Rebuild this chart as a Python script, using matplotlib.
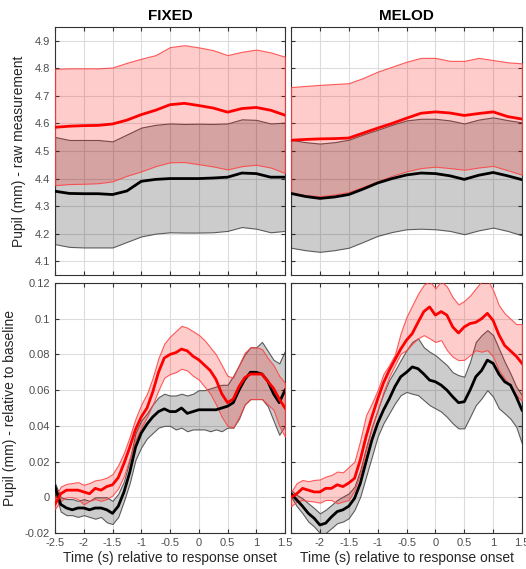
import numpy as np
import matplotlib
matplotlib.use("Agg")
import matplotlib.pyplot as plt
from matplotlib.ticker import FormatStrFormatter

plt.rcParams['font.family'] = ['Liberation Sans', 'DejaVu Sans']

# time axes (s relative to response onset)
t_top = np.linspace(-2.5, 1.5, 17)
t_bot = np.linspace(-2.5, 1.5, 41)

# ---- raw pupil, FIXED ----
fixed_raw_red = [4.586, 4.590, 4.592, 4.593, 4.598, 4.612, 4.632, 4.648, 4.668, 4.673,
                 4.665, 4.656, 4.641, 4.654, 4.658, 4.648, 4.630]
fixed_raw_red_hi = [4.798, 4.800, 4.800, 4.800, 4.803, 4.820, 4.835, 4.848, 4.877, 4.884,
                    4.876, 4.866, 4.848, 4.860, 4.868, 4.858, 4.842]
fixed_raw_red_lo = [4.376, 4.380, 4.381, 4.383, 4.390, 4.410, 4.426, 4.445, 4.459, 4.460,
                    4.452, 4.444, 4.433, 4.445, 4.450, 4.440, 4.420]
fixed_raw_blk = [4.354, 4.346, 4.345, 4.345, 4.342, 4.355, 4.390, 4.397, 4.400, 4.400,
                 4.400, 4.402, 4.405, 4.420, 4.418, 4.405, 4.405]
fixed_raw_blk_hi = [4.551, 4.540, 4.540, 4.540, 4.535, 4.560, 4.585, 4.595, 4.600, 4.598,
                    4.599, 4.598, 4.600, 4.615, 4.613, 4.600, 4.603]
fixed_raw_blk_lo = [4.162, 4.152, 4.150, 4.150, 4.150, 4.170, 4.190, 4.200, 4.205, 4.204,
                    4.204, 4.205, 4.210, 4.224, 4.218, 4.205, 4.210]

# ---- raw pupil, MELOD ----
melod_raw_red = [4.539, 4.542, 4.544, 4.545, 4.547, 4.565, 4.583, 4.600, 4.619, 4.637,
                 4.642, 4.638, 4.629, 4.636, 4.642, 4.625, 4.616]
melod_raw_red_hi = [4.732, 4.736, 4.740, 4.743, 4.746, 4.765, 4.788, 4.806, 4.824, 4.838,
                    4.838, 4.827, 4.827, 4.838, 4.830, 4.822, 4.818]
melod_raw_red_lo = [4.348, 4.340, 4.336, 4.342, 4.351, 4.370, 4.390, 4.410, 4.426, 4.438,
                    4.443, 4.438, 4.432, 4.440, 4.446, 4.430, 4.414]
melod_raw_blk = [4.346, 4.335, 4.328, 4.333, 4.342, 4.362, 4.384, 4.400, 4.413, 4.420,
                 4.418, 4.410, 4.397, 4.412, 4.422, 4.410, 4.396]
melod_raw_blk_hi = [4.541, 4.532, 4.527, 4.532, 4.541, 4.560, 4.577, 4.595, 4.611, 4.617,
                    4.617, 4.611, 4.600, 4.614, 4.622, 4.612, 4.604]
melod_raw_blk_lo = [4.149, 4.140, 4.134, 4.140, 4.149, 4.170, 4.192, 4.206, 4.216, 4.218,
                    4.216, 4.210, 4.198, 4.212, 4.222, 4.210, 4.194]

# ---- baseline-corrected, FIXED ----
fixed_rel_red = [-0.004, 0.002, 0.004, 0.004, 0.004, 0.003, 0.002, 0.005, 0.004, 0.006,
                 0.007, 0.011, 0.019, 0.028, 0.038, 0.045, 0.050, 0.059, 0.070, 0.078,
                 0.080, 0.081, 0.083, 0.082, 0.079, 0.077, 0.074, 0.071, 0.066, 0.058,
                 0.053, 0.055, 0.062, 0.067, 0.069, 0.069, 0.069, 0.065, 0.061, 0.055, 0.050]
fixed_rel_red_hi = [0.000, 0.006, 0.0075, 0.008, 0.0085, 0.007, 0.008, 0.0095, 0.010, 0.011,
                    0.013, 0.018, 0.025, 0.034, 0.044, 0.052, 0.058, 0.067, 0.078, 0.086,
                    0.090, 0.093, 0.096, 0.095, 0.093, 0.091, 0.088, 0.084, 0.080, 0.074,
                    0.068, 0.067, 0.074, 0.081, 0.084, 0.084, 0.083, 0.078, 0.074, 0.068, 0.064]
fixed_rel_red_lo = [-0.0065, -0.002, 0.000, 0.000, -0.001, -0.004, -0.002, -0.001, -0.002, -0.001,
                    0.001, 0.005, 0.012, 0.022, 0.032, 0.039, 0.045, 0.052, 0.060, 0.067,
                    0.069, 0.070, 0.072, 0.071, 0.068, 0.066, 0.062, 0.058, 0.052, 0.045,
                    0.040, 0.039, 0.045, 0.052, 0.055, 0.055, 0.055, 0.052, 0.049, 0.040, 0.034]
fixed_rel_blk = [0.006, -0.004, -0.006, -0.007, -0.006, -0.006, -0.007, -0.006, -0.006, -0.007,
                 -0.009, -0.005, 0.003, 0.014, 0.028, 0.036, 0.041, 0.045, 0.048, 0.0495,
                 0.048, 0.048, 0.050, 0.047, 0.048, 0.049, 0.049, 0.049, 0.049, 0.050,
                 0.051, 0.053, 0.060, 0.066, 0.070, 0.070, 0.069, 0.065, 0.058, 0.053, 0.060]
fixed_rel_blk_hi = [0.008, 0.000, -0.001, -0.001, -0.002, -0.001, -0.002, 0.000, 0.000, 0.000,
                    -0.002, 0.002, 0.009, 0.021, 0.036, 0.043, 0.047, 0.052, 0.056, 0.058,
                    0.057, 0.057, 0.058, 0.057, 0.058, 0.060, 0.060, 0.061, 0.062, 0.063,
                    0.063, 0.068, 0.074, 0.080, 0.084, 0.084, 0.087, 0.082, 0.077, 0.075, 0.082]
fixed_rel_blk_lo = [0.003, -0.008, -0.010, -0.010, -0.011, -0.010, -0.011, -0.012, -0.011, -0.014,
                    -0.015, -0.011, -0.002, 0.008, 0.021, 0.028, 0.033, 0.036, 0.039, 0.040,
                    0.040, 0.038, 0.039, 0.037, 0.038, 0.038, 0.038, 0.037, 0.038, 0.037,
                    0.039, 0.039, 0.044, 0.052, 0.055, 0.055, 0.055, 0.051, 0.043, 0.035, 0.040]

# ---- baseline-corrected, MELOD ----
melod_rel_red = [0.000, 0.002, 0.005, 0.004, 0.003, 0.003, 0.005, 0.005, 0.007, 0.006,
                 0.008, 0.0106, 0.021, 0.034, 0.045, 0.055, 0.064, 0.071, 0.077, 0.083,
                 0.088, 0.0917, 0.098, 0.104, 0.1066, 0.102, 0.104, 0.102, 0.0954, 0.092,
                 0.0954, 0.0973, 0.098, 0.100, 0.103, 0.099, 0.091, 0.085, 0.082, 0.079, 0.075]
melod_rel_red_hi = [0.003, 0.008, 0.0097, 0.009, 0.0097, 0.010, 0.0116, 0.0125, 0.0144, 0.014,
                    0.017, 0.020, 0.032, 0.046, 0.0526, 0.060, 0.069, 0.074, 0.080, 0.092,
                    0.101, 0.1075, 0.114, 0.119, 0.121, 0.117, 0.121, 0.118, 0.112, 0.108,
                    0.110, 0.113, 0.117, 0.121, 0.122, 0.116, 0.1075, 0.103, 0.100, 0.097, 0.097]
melod_rel_red_lo = [-0.005, -0.0024, -0.0015, -0.002, -0.0024, -0.003, -0.0015, -0.0015, -0.0034, -0.0024,
                    -0.0015, 0.004, 0.0134, 0.0265, 0.0386, 0.0488, 0.059, 0.0675, 0.074, 0.0805,
                    0.0824, 0.086, 0.089, 0.0908, 0.089, 0.087, 0.088, 0.0824, 0.0787, 0.0768,
                    0.077, 0.0796, 0.0824, 0.0815, 0.0824, 0.0787, 0.0712, 0.0665, 0.062, 0.0572, 0.054]
melod_rel_blk = [0.002, -0.0015, -0.005, -0.009, -0.0117, -0.0155, -0.0145, -0.011, -0.008, -0.007,
                 -0.005, -0.0006, 0.0078, 0.020, 0.032, 0.0414, 0.0488, 0.055, 0.062, 0.0675,
                 0.070, 0.073, 0.072, 0.069, 0.0656, 0.0647, 0.0628, 0.060, 0.0563, 0.053,
                 0.0535, 0.060, 0.0675, 0.071, 0.0768, 0.075, 0.069, 0.0647, 0.0628, 0.0563, 0.0488]
melod_rel_blk_hi = [0.004, 0.0013, -0.0006, -0.0034, -0.006, -0.009, -0.007, -0.0043, -0.0015, 0.0004,
                    0.0022, 0.006, 0.0153, 0.028, 0.0395, 0.0488, 0.058, 0.0656, 0.071, 0.0768,
                    0.0824, 0.087, 0.089, 0.084, 0.0815, 0.0796, 0.0768, 0.074, 0.070, 0.0684,
                    0.0675, 0.0759, 0.087, 0.0908, 0.0936, 0.0908, 0.0833, 0.0759, 0.0693, 0.062, 0.0572]
melod_rel_blk_lo = [0.0004, -0.005, -0.009, -0.0136, -0.0164, -0.020, -0.020, -0.0173, -0.0145, -0.0136,
                    -0.0117, -0.007, 0.0004, 0.0116, 0.0227, 0.034, 0.0414, 0.047, 0.0526, 0.0572,
                    0.059, 0.058, 0.0572, 0.0544, 0.0516, 0.0498, 0.048, 0.045, 0.0414, 0.0386,
                    0.0386, 0.045, 0.0516, 0.0554, 0.060, 0.0563, 0.0498, 0.047, 0.044, 0.0395, 0.030]

titles = ['FIXED', 'MELOD']
ylab_top = 'Pupil (mm) - raw measurement'
ylab_bot = 'Pupil (mm) - relative to baseline'
xlab = 'Time (s) relative to response onset'
xticks = [-2.5, -2, -1.5, -1, -0.5, 0, 0.5, 1, 1.5]
yticks_top = [4.1, 4.2, 4.3, 4.4, 4.5, 4.6, 4.7, 4.8, 4.9]
yticks_bot = [-0.02, 0, 0.02, 0.04, 0.06, 0.08, 0.1, 0.12]

W, H = 526, 569
fig = plt.figure(figsize=(W / 100, H / 100), dpi=100)


def box(x0, y0, x1, y1):
    # pixel box (top-left origin) -> figure fraction
    return [x0 / W, 1 - y1 / H, (x1 - x0) / W, (y1 - y0) / H]


ax_tl = fig.add_axes(box(55, 27, 285, 275))
ax_tr = fig.add_axes(box(291, 27, 522, 275))
ax_bl = fig.add_axes(box(55, 283, 285, 533))
ax_br = fig.add_axes(box(291, 283, 522, 533))

tick_col = '#4d4d4d'


def draw(ax, t, blk, blk_hi, blk_lo, red, red_hi, red_lo):
    ax.fill_between(t, blk_lo, blk_hi, facecolor=(0, 0, 0, 0.2),
                    edgecolor=(0.3, 0.3, 0.3, 0.9), linewidth=0.8, zorder=2)
    ax.fill_between(t, red_lo, red_hi, facecolor=(1, 0, 0, 0.2),
                    edgecolor=(1, 0.25, 0.25, 0.85), linewidth=0.8, zorder=3)
    ax.plot(t, blk, color='black', lw=2, zorder=4)
    ax.plot(t, red, color='red', lw=2, zorder=5)
    ax.set_xlim(-2.5, 1.5)
    ax.set_xticks(xticks)
    ax.grid(True, color='#dcdcdc', lw=0.8)
    ax.set_axisbelow(True)
    ax.tick_params(direction='in', top=True, right=True, length=3,
                   colors='#333333', labelcolor=tick_col, labelsize=8)
    for s in ax.spines.values():
        s.set_color('#333333')
        s.set_linewidth(0.8)


draw(ax_tl, t_top, fixed_raw_blk, fixed_raw_blk_hi, fixed_raw_blk_lo,
     fixed_raw_red, fixed_raw_red_hi, fixed_raw_red_lo)
draw(ax_tr, t_top, melod_raw_blk, melod_raw_blk_hi, melod_raw_blk_lo,
     melod_raw_red, melod_raw_red_hi, melod_raw_red_lo)
draw(ax_bl, t_bot, fixed_rel_blk, fixed_rel_blk_hi, fixed_rel_blk_lo,
     fixed_rel_red, fixed_rel_red_hi, fixed_rel_red_lo)
draw(ax_br, t_bot, melod_rel_blk, melod_rel_blk_hi, melod_rel_blk_lo,
     melod_rel_red, melod_rel_red_hi, melod_rel_red_lo)

for ax in (ax_tl, ax_tr):
    ax.set_ylim(4.05, 4.95)
    ax.set_yticks(yticks_top)
    ax.set_xticklabels([])
for ax in (ax_bl, ax_br):
    ax.set_ylim(-0.02, 0.12)
    ax.set_yticks(yticks_bot)
    ax.set_xlabel(xlab, fontsize=10, color='#262626', labelpad=2)

ax_tl.yaxis.set_major_formatter(FormatStrFormatter('%g'))
ax_bl.yaxis.set_major_formatter(FormatStrFormatter('%g'))
ax_tr.set_yticklabels([])
ax_br.set_yticklabels([])

ax_bl.set_xticklabels(['%g' % v for v in xticks])
ax_br.set_xticklabels([''] + ['%g' % v for v in xticks[1:]])

ax_tl.set_ylabel(ylab_top, fontsize=10, color='#262626', labelpad=6)
ax_bl.set_ylabel(ylab_bot, fontsize=10, color='#262626', labelpad=6)

ax_tl.set_title(titles[0], fontsize=11, fontweight='bold', pad=5)
ax_tr.set_title(titles[1], fontsize=11, fontweight='bold', pad=5)

fig.savefig('out.png', dpi=100)
